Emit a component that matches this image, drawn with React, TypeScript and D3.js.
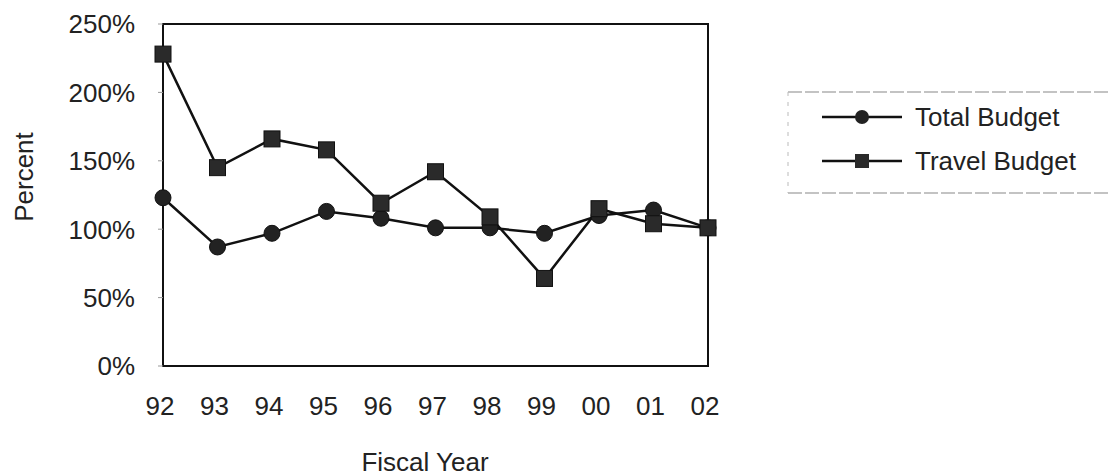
import * as d3 from "d3";

const years = ["92", "93", "94", "95", "96", "97", "98", "99", "00", "01", "02"];
const totalBudget = [1.23, 0.87, 0.97, 1.13, 1.08, 1.01, 1.01, 0.97, 1.1, 1.14, 1.01];
const travelBudget = [2.28, 1.45, 1.66, 1.58, 1.19, 1.42, 1.09, 0.64, 1.15, 1.04, 1.01];
const yTicks = [0, 0.5, 1, 1.5, 2, 2.5];

const W = 1111;
const H = 476;
const left = 163;
const right = 708;
const top = 24;
const bottom = 366;

export default function App() {
    const x = d3.scalePoint<string>().domain(years).range([left, right]);
    const y = d3.scaleLinear().domain([0, 2.5]).range([bottom, top]);
    const fmt = d3.format(".0%");

    const line = d3
        .line<number>()
        .x((d, i) => x(years[i]) as number)
        .y((d) => y(d));

    const font = "'Liberation Sans', Arial, sans-serif";
    const fs = 26;

    return (
        <svg
            width={W}
            height={H}
            style={{ position: "absolute", left: 0, top: 0, background: "#fff" }}
            fontFamily={font}
        >
            {/* plot frame */}
            <rect
                x={left}
                y={top}
                width={right - left}
                height={bottom - top}
                fill="none"
                stroke="#111"
                strokeWidth={2}
            />

            {/* y ticks + labels */}
            {yTicks.map((t) => (
                <g key={t}>
                    <line x1={left - 5} x2={left} y1={y(t)} y2={y(t)} stroke="#999" strokeWidth={1} />
                    <text
                        x={135}
                        y={y(t)}
                        dy="0.36em"
                        textAnchor="end"
                        fontSize={fs}
                        fill="#222"
                    >
                        {fmt(t)}
                    </text>
                </g>
            ))}

            {/* x labels */}
            {years.map((yr) => (
                <text
                    key={yr}
                    x={(x(yr) as number) - 3}
                    y={415}
                    textAnchor="middle"
                    fontSize={fs}
                    fill="#222"
                >
                    {yr}
                </text>
            ))}

            <text x={425} y={471} textAnchor="middle" fontSize={fs} fill="#222">
                Fiscal Year
            </text>
            <text
                transform={`translate(33,177) rotate(-90)`}
                textAnchor="middle"
                fontSize={fs}
                fill="#222"
            >
                Percent
            </text>

            {/* series */}
            <path d={line(travelBudget) ?? ""} fill="none" stroke="#111" strokeWidth={2.5} />
            <path d={line(totalBudget) ?? ""} fill="none" stroke="#111" strokeWidth={2.5} />

            {totalBudget.map((v, i) => (
                <circle key={"c" + i} cx={x(years[i])} cy={y(v)} r={8} fill="#222" stroke="#111" />
            ))}
            {travelBudget.map((v, i) => (
                <rect
                    key={"s" + i}
                    x={(x(years[i]) as number) - 8}
                    y={y(v) - 8}
                    width={16}
                    height={16}
                    fill="#2a2a2a"
                    stroke="#111"
                />
            ))}

            {/* legend */}
            <g>
                <line x1={788} x2={1111} y1={92} y2={92} stroke="#888" strokeWidth={1.2} strokeDasharray="14,3" />
                <line x1={788} x2={1111} y1={193} y2={193} stroke="#888" strokeWidth={1.2} strokeDasharray="14,3" />
                <line x1={788} x2={788} y1={92} y2={193} stroke="#bbb" strokeWidth={1} strokeDasharray="4,6" />

                <line x1={822} x2={902} y1={117} y2={117} stroke="#111" strokeWidth={2.5} />
                <circle cx={862} cy={117} r={7} fill="#222" />
                <text x={915} y={117} dy="0.36em" fontSize={fs} fill="#222">
                    Total Budget
                </text>

                <line x1={822} x2={902} y1={161} y2={161} stroke="#111" strokeWidth={2.5} />
                <rect x={855} y={154} width={14} height={14} fill="#2a2a2a" />
                <text x={915} y={161} dy="0.36em" fontSize={fs} fill="#222">
                    Travel Budget
                </text>
            </g>
        </svg>
    );
}
